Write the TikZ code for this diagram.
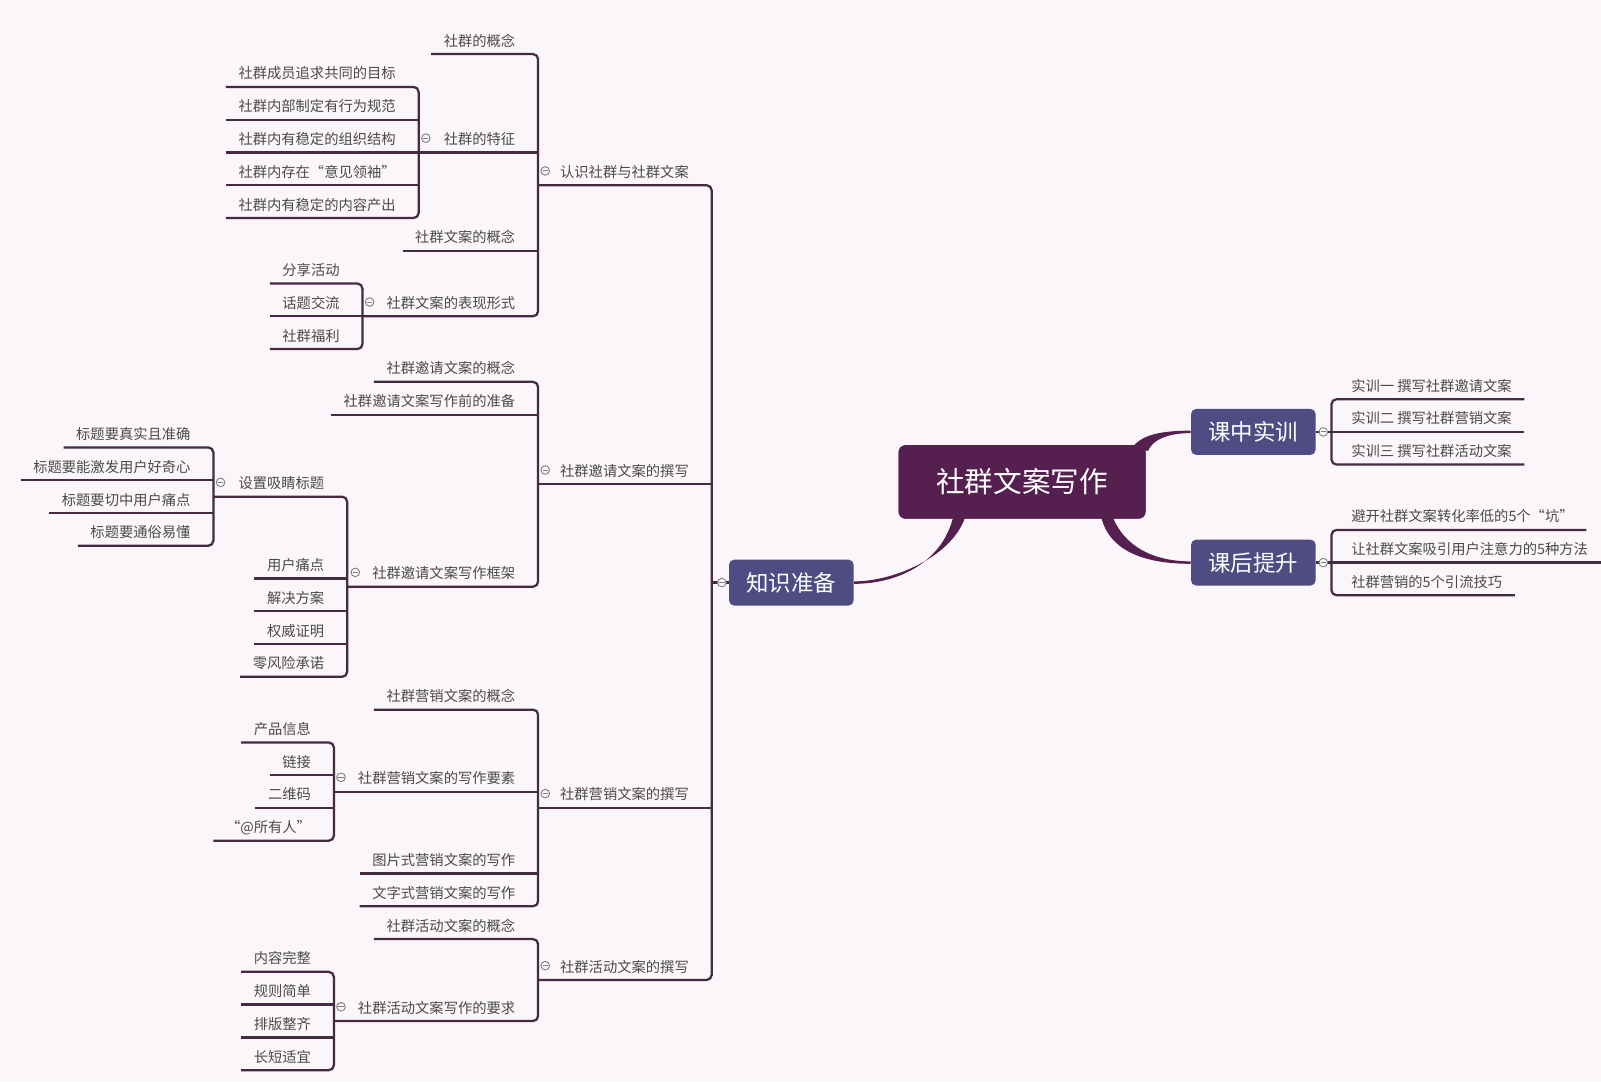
\documentclass[tikz,border=0pt]{standalone}
\usepackage{fontspec}
\setmainfont{Noto Sans CJK SC}

\definecolor{bg}{HTML}{FBF6FA}
\definecolor{lc}{HTML}{442B42}
\definecolor{tc}{HTML}{4A4A4A}
\definecolor{rc}{HTML}{551F50}
\definecolor{tb}{HTML}{4E4C82}

\begin{document}
\begin{tikzpicture}[x=0.5pt, y=-0.5pt,
    lin/.style={draw=lc, line width=1.1pt, rounded corners=2.5pt},
    lt/.style={anchor=south east, inner xsep=0pt, inner ysep=3.2pt, text height=6.5pt, text depth=.5pt, text=tc, font=\fontsize{7}{8}\selectfont},
    rt/.style={lt, anchor=south west},
    fold/.style={circle, draw=gray, fill=bg, line width=.45pt, inner sep=0pt, minimum size=4.2pt,
        path picture={\draw[gray, line width=.45pt] ([xshift=-1.3pt]path picture bounding box.center) -- ([xshift=1.3pt]path picture bounding box.center);}},
    topic/.style={fill=tb, rounded corners=2.5pt, text=white, minimum width=61pt, minimum height=22.5pt, font=\fontsize{11}{13}\selectfont},
    central/.style={fill=rc, rounded corners=3.5pt, text=white, minimum width=121pt, minimum height=36pt, font=\fontsize{14}{17}\selectfont}]
    \useasboundingbox (0,0) rectangle (1568,1059);
    \fill[bg] (0,0) rectangle (1568,1059);

    % main topics
    \node[central] (root) at (1001,472) {社群文案写作};
    \node[topic] (zs) at (775,570.6) {知识准备};
    \node[topic] (kz) at (1227.5,423) {课中实训};
    \node[topic] (kh) at (1227.5,551) {课后提升};

    % level 1 (left)
    \node[lt] (z1) at (675,181.4) {认识社群与社群文案};
    \node[lt] (z2) at (675,474.3) {社群邀请文案的撰写};
    \node[lt] (z3) at (675,791.3) {社群营销文案的撰写};
    \node[lt] (z4) at (675,959.8) {社群活动文案的撰写};

    % level 2
    \node[lt] (a1) at (505,53) {社群的概念};
    \node[lt] (a2) at (505,149.3) {社群的特征};
    \node[lt] (a3) at (505,245.6) {社群文案的概念};
    \node[lt] (a4) at (505,309.8) {社群文案的表现形式};
    \node[lt] (b1) at (505,374) {社群邀请文案的概念};
    \node[lt] (b2) at (505,406.1) {社群邀请文案写作前的准备};
    \node[lt] (b3) at (505,574.6) {社群邀请文案写作框架};
    \node[lt] (c1) at (505,695) {社群营销文案的概念};
    \node[lt] (c2) at (505,775.3) {社群营销文案的写作要素};
    \node[lt] (c3) at (505,855.5) {图片式营销文案的写作};
    \node[lt] (c4) at (505,887.6) {文字式营销文案的写作};
    \node[lt] (d1) at (505,919.7) {社群活动文案的概念};
    \node[lt] (d2) at (505,1000) {社群活动文案写作的要求};

    % level 3
    \foreach \t [count=\i] in {社群成员追求共同的目标,社群内部制定有行为规范,社群内有稳定的组织结构,社群内存在“意见领袖”,社群内有稳定的内容产出}
        \node[lt] (a2-\i) at (388,{53+32.1*\i}) {\t};
    \foreach \t [count=\i] in {分享活动,话题交流,社群福利}
        \node[lt] (a4-\i) at (333,{53+32.1*(\i+6)}) {\t};
    \node[lt] (b3-0) at (318,486.4) {设置吸睛标题};
    \foreach \t [count=\i] in {标题要真实且准确,标题要能激发用户好奇心,标题要切中用户痛点,标题要通俗易懂}
        \node[lt] (s-\i) at (187,{53+32.1*(\i+11)}) {\t};
    \foreach \t [count=\i] in {用户痛点,解决方案,权威证明,零风险承诺}
        \node[lt] (b3-\i) at (318,{53+32.1*(\i+15)}) {\t};
    \foreach \t [count=\i] in {产品信息,链接,二维码,“@所有人”}
        \node[lt] (c2-\i) at (305,{53+32.1*(\i+20)}) {\t};
    \foreach \t [count=\i] in {内容完整,规则简单,排版整齐,长短适宜}
        \node[lt] (d2-\i) at (305,{53+32.1*(\i+27)}) {\t};

    % right side
    \foreach \t [count=\i] in {实训一 撰写社群邀请文案,实训二 撰写社群营销文案,实训三 撰写社群活动文案}
        \node[rt] (kz-\i) at (1323,{359+32*\i}) {\t};
    \foreach \t [count=\i] in {避开社群文案转化率低的5个“坑”,让社群文案吸引用户注意力的5种方法,社群营销的5个引流技巧}
        \node[rt] (kh-\i) at (1323,{487+32*\i}) {\t};

    % tapered branches
    \fill[rc] ([xshift=-27.5pt,yshift=2pt]root.south) .. controls +(-12,40) and +(40,0) .. ([yshift=.6pt]zs.east)
        -- ([yshift=-.6pt]zs.east) .. controls +(45,0) and +(-10,45) .. ([xshift=-33.5pt,yshift=2pt]root.south) -- cycle;
    \fill[rc] ([xshift=-7pt,yshift=-2pt]root.north east) .. controls +(8,-14) and +(-28,0) .. ([yshift=.6pt]kz.west)
        -- ([yshift=-.6pt]kz.west) .. controls +(-24,0) and +(4,-10) .. ([xshift=1pt,yshift=-3pt]root.north east) -- cycle;
    \fill[rc] ([xshift=44pt,yshift=2pt]root.south) .. controls +(12,32) and +(-35,0) .. ([yshift=.6pt]kh.west)
        -- ([yshift=-.6pt]kh.west) .. controls +(-40,0) and +(8,38) .. ([xshift=38.5pt,yshift=2pt]root.south) -- cycle;
    \node[central] at (root) {社群文案写作};

    % 知识准备
    \draw[lin] (zs.west) -- ([xshift=11pt]z1.south east |- zs.west);
    \draw[lin] ([xshift=11pt]a1.south east |- z1.south) -| ([xshift=11pt]z4.south east) -- ([xshift=11pt]d1.south east |- z4.south);
    \draw[lin] ([xshift=11pt]b1.south east |- z2.south) -- ([xshift=11pt]z2.south east);
    \draw[lin] ([xshift=11pt]c1.south east |- z3.south) -- ([xshift=11pt]z3.south east);

    % 认识社群与社群文案
    \draw[lin] ([xshift=-6pt]a1.south west) -| ([xshift=11pt]a4.south east) -- ([xshift=11pt]a4-1.south east |- a4.south);
    \draw[lin] ([xshift=11pt]a2-1.south east |- a2.south) -- ([xshift=11pt]a2.south east);
    \draw[lin] ([xshift=-6pt]a3.south west) -- ([xshift=11pt]a3.south east);
    \draw[lin] ([xshift=-6pt]a2-1.south west) -| ([xshift=11pt]a2-5.south east) -- ([xshift=-6pt]a2-5.south west);
    \foreach \i in {2,3,4}
        \draw[lin] ([xshift=-6pt]a2-\i.south west) -- ([xshift=11pt]a2-\i.south east);
    \draw[lin] ([xshift=-6pt]a4-1.south west) -| ([xshift=11pt]a4-3.south east) -- ([xshift=-6pt]a4-3.south west);
    \draw[lin] ([xshift=-6pt]a4-2.south west) -- ([xshift=11pt]a4-2.south east);

    % 社群邀请文案的撰写
    \draw[lin] ([xshift=-6pt]b1.south west) -| ([xshift=11pt]b3.south east) -- ([xshift=11pt]b3-0.south east |- b3.south);
    \draw[lin] ([xshift=-6pt]b2.south west) -- ([xshift=11pt]b2.south east);
    \draw[lin] ([xshift=11pt]s-1.south east |- b3-0.south) -| ([xshift=11pt]b3-4.south east) -- ([xshift=-6pt]b3-4.south west);
    \foreach \i in {1,2,3}
        \draw[lin] ([xshift=-6pt]b3-\i.south west) -- ([xshift=11pt]b3-\i.south east);
    \draw[lin] ([xshift=-6pt]s-1.south west) -| ([xshift=11pt]s-4.south east) -- ([xshift=-6pt]s-4.south west);
    \foreach \i in {2,3}
        \draw[lin] ([xshift=-6pt]s-\i.south west) -- ([xshift=11pt]s-\i.south east);

    % 社群营销文案的撰写
    \draw[lin] ([xshift=-6pt]c1.south west) -| ([xshift=11pt]c4.south east) -- ([xshift=-6pt]c4.south west);
    \draw[lin] ([xshift=11pt]c2-1.south east |- c2.south) -- ([xshift=11pt]c2.south east);
    \draw[lin] ([xshift=-6pt]c3.south west) -- ([xshift=11pt]c3.south east);
    \draw[lin] ([xshift=-6pt]c2-1.south west) -| ([xshift=11pt]c2-4.south east) -- ([xshift=-6pt]c2-4.south west);
    \foreach \i in {2,3}
        \draw[lin] ([xshift=-6pt]c2-\i.south west) -- ([xshift=11pt]c2-\i.south east);

    % 社群活动文案的撰写
    \draw[lin] ([xshift=-6pt]d1.south west) -| ([xshift=11pt]d2.south east) -- ([xshift=11pt]d2-1.south east |- d2.south);
    \draw[lin] ([xshift=-6pt]d2-1.south west) -| ([xshift=11pt]d2-4.south east) -- ([xshift=-6pt]d2-4.south west);
    \foreach \i in {2,3}
        \draw[lin] ([xshift=-6pt]d2-\i.south west) -- ([xshift=11pt]d2-\i.south east);

    % 课中实训 / 课后提升
    \draw[lin] ([xshift=6pt]kz-1.south east) -| ([xshift=-9.5pt]kz-3.south west) -- ([xshift=6pt]kz-3.south east);
    \draw[lin] (kz.east) -- ([xshift=6pt]kz-2.south east);
    \draw[lin] ([xshift=6pt]kh-1.south east) -| ([xshift=-9.5pt]kh-3.south west) -- ([xshift=6pt]kh-3.south east);
    \draw[lin] (kh.east) -- ([xshift=6pt]kh-2.south east);

    % fold marks
    \foreach \n/\x/\y in {a2o/417/135.3, a4o/362/295.8, so/216/472.4, b3o/348/560.6, c2o/334/761.3, d2o/334/986,
            z1o/534/167.4, z2o/534/460.3, z3o/534/777.3, z4o/534/945.8, zso/707/570.6, kzo/1296/423, kho/1296/551}
        \node[fold] (\n) at (\x,\y) {};
\end{tikzpicture}
\end{document}
